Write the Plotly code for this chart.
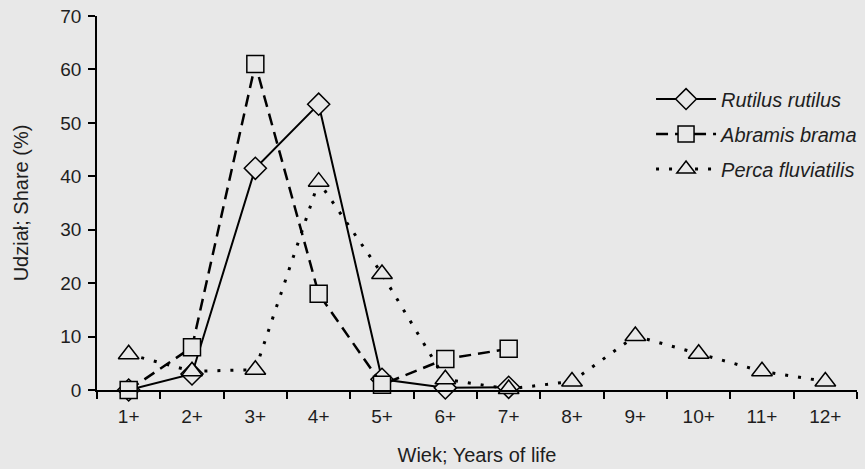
import plotly.graph_objects as go

ages = ["1+", "2+", "3+", "4+", "5+", "6+", "7+", "8+", "9+", "10+", "11+", "12+"]
rutilus = [0, 3, 41.5, 53.5, 2, 0.4, 0.5]
abramis = [0, 8, 61, 18, 1, 5.8, 7.7]
perca = [6.7, 3.5, 3.8, 39, 21.7, 2, 0.2, 1.6, 10.1, 6.8, 3.5, 1.6]

BG = "#e8e8e8"
FONT = "Liberation Sans, Arial, sans-serif"

fig = go.Figure()
fig.add_trace(go.Scatter(
    x=ages[:len(rutilus)], y=rutilus, name="Rutilus rutilus", mode="lines+markers",
    legendgroup="a",
    line=dict(color="black", width=2, dash="solid"),
    marker=dict(symbol="diamond", size=17, color=BG, line=dict(color="black", width=1.5)),
    cliponaxis=False))
fig.add_trace(go.Scatter(
    x=ages[:len(abramis)], y=abramis, name="Abramis brama", mode="lines+markers",
    legendgroup="b",
    line=dict(color="black", width=2.5, dash="12px,7px"),
    marker=dict(symbol="square", size=17, color=BG, line=dict(color="black", width=1.5)),
    cliponaxis=False))
fig.add_trace(go.Scatter(
    x=ages, y=perca, name="Perca fluviatilis", mode="lines+markers",
    legendgroup="c",
    line=dict(color="black", width=3, dash="3px,10px"),
    marker=dict(symbol="triangle-up", size=18, color=BG, line=dict(color="black", width=1.5)),
    cliponaxis=False))

fig.update_layout(
    width=865, height=469,
    margin=dict(l=97, r=8, t=16, b=79, autoexpand=False),
    paper_bgcolor=BG, plot_bgcolor=BG,
    font=dict(family=FONT, size=19, color="#1e1e1e"),
    showlegend=True,
    legend=dict(x=0.729, y=0.83, xanchor="left", yanchor="top",
                bgcolor="rgba(0,0,0,0)", font=dict(size=20, style="italic"),
                itemwidth=60, tracegroupgap=6),
)
fig.update_xaxes(
    type="category", categoryorder="array", categoryarray=ages,
    range=[-0.5, 11.5], showgrid=False, zeroline=False, automargin=False,
    showline=True, linecolor="black", linewidth=1.5,
    ticks="outside", tickson="boundaries", ticklen=7, tickcolor="black", tickwidth=1.5,
    ticklabelstandoff=8,
    title=dict(text="Wiek; Years of life", font=dict(size=20), standoff=22),
)
fig.update_yaxes(
    range=[0, 70], dtick=10, showgrid=False, zeroline=False, automargin=False,
    showline=True, linecolor="black", linewidth=1.5,
    ticks="outside", ticklen=7, tickcolor="black", tickwidth=1.5,
    ticklabelstandoff=3,
    title=dict(text="Udział; Share (%)", font=dict(size=20), standoff=26),
)

fig.write_html("out.html")
